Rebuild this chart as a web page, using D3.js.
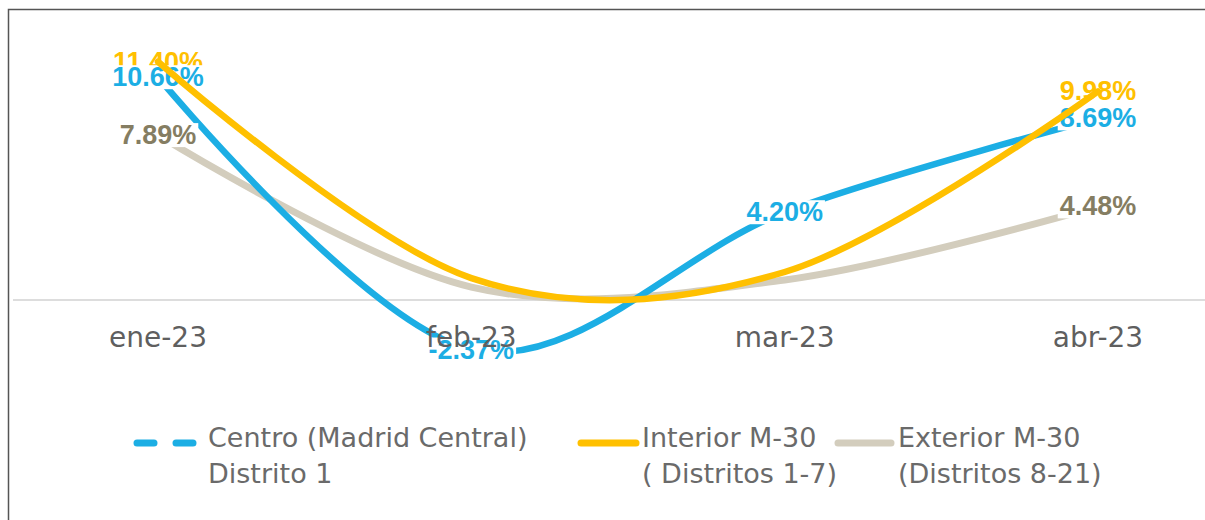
<!DOCTYPE html>
<html>
<head>
<meta charset="utf-8">
<script src="https://cdn.jsdelivr.net/npm/d3@7"></script>
<style>
  html, body { margin: 0; padding: 0; background: #ffffff; }
  svg { display: block; }
</style>
</head>
<body>
<svg id="chart" width="1205" height="520"></svg>
<script>
// Monthly change by zone (%), Jan–Apr 2023
const categories = ["ene-23", "feb-23", "mar-23", "abr-23"];
const centro   = [10.66, -2.37, 4.20, 8.69];
const interior = [11.40, 1.05, 1.34, 9.98];
const exterior = [7.89, 0.62, 0.96, 4.48];

// Which points carry a value label
const centroLabels   = [0, 1, 2, 3];
const interiorLabels = [0, 3];
const exteriorLabels = [0, 3];

const legendNames = [
  ["Centro (Madrid Central)", "Distrito 1"],
  ["Interior M-30", "( Distritos 1-7)"],
  ["Exterior M-30", "(Distritos 8-21)"]
];

const colors = {
  centro: "#1CAEE4",
  interior: "#FFC000",
  exterior: "#D3CDBD",
  exteriorText: "#857D62",
  axisText: "#5f5f5f",
  legendText: "#6a6a6a"
};

const svg = d3.select("#chart");

const x = d3.scalePoint().domain(categories).range([158, 1098]);
const y = d3.scaleLinear().domain([0, 10]).range([300, 91]);

const line = d3.line()
  .x((d, i) => x(categories[i]))
  .y(d => y(d))
  .curve(d3.curveCatmullRom.alpha(0));

// zero baseline
svg.append("line")
  .attr("x1", 13).attr("x2", 1205)
  .attr("y1", y(0)).attr("y2", y(0))
  .attr("stroke", "#DDDDDD").attr("stroke-width", 2);

function drawLine(values, color, width) {
  svg.append("path")
    .datum(values)
    .attr("d", line)
    .attr("fill", "none")
    .attr("stroke", color)
    .attr("stroke-width", width)
    .attr("stroke-linejoin", "round")
    .attr("stroke-linecap", "round");
}

// plain hyphen for negatives, two decimals, percent sign
const fmt = v => d3.format(".2f")(v).replace("\u2212", "-") + "%";

function drawLabels(values, idx, color) {
  const g = svg.append("g");
  idx.forEach(i => {
    const cx = x(categories[i]);
    const cy = y(values[i]);
    const lg = g.append("g");
    const rect = lg.append("rect").attr("fill", "#ffffff");
    const t = lg.append("text")
      .attr("x", cx).attr("y", cy)
      .attr("text-anchor", "middle")
      .attr("dominant-baseline", "central")
      .attr("font-family", "'Liberation Sans', Arial, sans-serif")
      .attr("font-weight", "bold")
      .attr("font-size", 27)
      .attr("fill", color)
      .text(fmt(values[i]));
    const bb = t.node().getBBox();
    rect.attr("x", bb.x - 2).attr("y", cy - 12)
      .attr("width", bb.width + 4).attr("height", 24);
  });
}

drawLine(exterior, colors.exterior, 7);
drawLine(centro, colors.centro, 6.5);
drawLabels(interior, interiorLabels, colors.interior);
drawLabels(centro, centroLabels, colors.centro);
drawLine(interior, colors.interior, 6.5);
drawLabels(exterior, exteriorLabels, colors.exteriorText);

// category labels
svg.append("g").selectAll("text")
  .data(categories)
  .join("text")
  .attr("x", d => x(d))
  .attr("y", 347)
  .attr("text-anchor", "middle")
  .attr("font-family", "'DejaVu Sans', sans-serif")
  .attr("font-size", 28)
  .attr("fill", colors.axisText)
  .text(d => d);

// legend
const legendItems = [
  { names: legendNames[0], color: colors.centro, x0: 137, x1: 203, tx: 208, dash: true },
  { names: legendNames[1], color: colors.interior, x0: 581, x1: 636, tx: 642, dash: false },
  { names: legendNames[2], color: colors.exterior, x0: 838, x1: 891, tx: 898, dash: false }
];

const legend = svg.append("g");
legendItems.forEach(it => {
  const ln = legend.append("line")
    .attr("x1", it.x0).attr("x2", it.x1)
    .attr("y1", 443).attr("y2", 443)
    .attr("stroke", it.color)
    .attr("stroke-width", 7)
    .attr("stroke-linecap", "round");
  if (it.dash) ln.attr("stroke-dasharray", "17 22");
  it.names.forEach((s, j) => {
    legend.append("text")
      .attr("x", it.tx)
      .attr("y", 447 + j * 36)
      .attr("font-family", "'DejaVu Sans', sans-serif")
      .attr("font-size", 27)
      .attr("fill", colors.legendText)
      .attr("xml:space", "preserve")
      .text(s);
  });
});

// frame
svg.append("path")
  .attr("d", "M8.5,530 V9.5 H1215")
  .attr("fill", "none")
  .attr("stroke", "#555555")
  .attr("stroke-width", 1.5);
</script>
</body>
</html>
